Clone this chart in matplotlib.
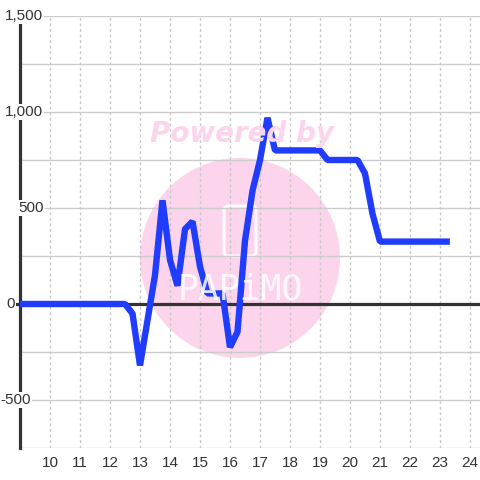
import matplotlib
matplotlib.use("Agg")
import matplotlib.pyplot as plt
import matplotlib.transforms as mtransforms
from matplotlib.patches import Circle, FancyBboxPatch

# data
xs = [9.0, 12.5, 12.75, 13.0, 13.5, 13.75, 14.0, 14.25, 14.5, 14.75, 15.0,
      15.25, 15.75, 16.0, 16.25, 16.5, 16.75, 17.0, 17.25, 17.5, 19.0,
      19.25, 20.25, 20.5, 20.75, 21.0, 23.33]
ys = [0, 0, -50, -320, 150, 540, 230, 95, 390, 430, 195,
      55, 55, -225, -145, 330, 590, 750, 970, 800, 800,
      750, 750, 680, 470, 325, 325]
x_ticks = list(range(10, 25))
y_ticks = [1500, 1000, 500, 0, -500]
y_labels = ["1,500", "1,000", "500", "0", "-500"]
y_label_right = [43, 43, 44, 15, 31]  # pixel x of label right edge

W = 480
fig = plt.figure(figsize=(4.8, 4.8), dpi=100)
ax = fig.add_axes([20 / W, 32 / W, 460 / W, 432 / W])
ax.set_xlim(9.0, 9.0 + 460 / 30)
ax.set_ylim(-750, 1500)

# watermark
pink = "#fcd5ec"
ax.add_patch(Circle((240 / W, 1 - 258 / W), 100 / W, transform=fig.transFigure,
                    facecolor=pink, edgecolor="none", zorder=0))
ax.add_patch(FancyBboxPatch((224 / W, 1 - 256 / W), 32 / W, 50 / W,
                            boxstyle="round,pad=0,rounding_size=0.01",
                            transform=fig.transFigure, facecolor="none",
                            edgecolor="white", lw=2.2, alpha=0.9, zorder=0.5))
fig.text(240 / W, 1 - 290 / W, "PAPiMO", color="white", fontsize=25,
         family="DejaVu Sans Mono", ha="center", va="center", alpha=0.85,
         zorder=0.5)
fig.text(242 / W, 1 - 134 / W, "Powered by", color=pink, fontsize=20,
         fontweight="bold", fontstyle="italic", ha="center", va="center",
         zorder=0.5)

# grid
for v in range(-750, 1501, 250):
    ax.axhline(v, color="#cccccc", lw=1, zorder=1)
for t in x_ticks:
    ax.axvline(t, color="#c8c8c8", lw=1, ls=(0, (2, 2)), zorder=1)
ax.axhline(0, xmin=-3 / 460, color="#333333", lw=2.3, zorder=2, clip_on=False)

ax.plot(xs, ys, color="#1f3cff", lw=4.6, solid_joinstyle="bevel",
        solid_capstyle="butt", zorder=3, clip_on=False)

for s in ["top", "right", "bottom"]:
    ax.spines[s].set_visible(False)
ax.spines["left"].set_color("#333333")
ax.spines["left"].set_linewidth(2.3)
ax.spines["left"].set_bounds(-750, 1460)
ax.spines["left"].set_zorder(2.5)

ax.set_xticks(x_ticks)
ax.set_xticklabels([str(t) for t in x_ticks], family="Liberation Sans",
                   fontsize=11, color="#333333")
ax.tick_params(axis="x", length=0, pad=5.5)
ax.set_yticks([])

tr = mtransforms.blended_transform_factory(fig.transFigure, ax.transData)
for v, lab, xr in zip(y_ticks, y_labels, y_label_right):
    ax.text(xr / W, v, lab, transform=tr, ha="right", va="center",
            family="Liberation Sans", fontsize=11, color="#333333",
            bbox=dict(facecolor="white", edgecolor="none", pad=0.5),
            zorder=4, clip_on=False)

fig.savefig("out.png", dpi=100)
